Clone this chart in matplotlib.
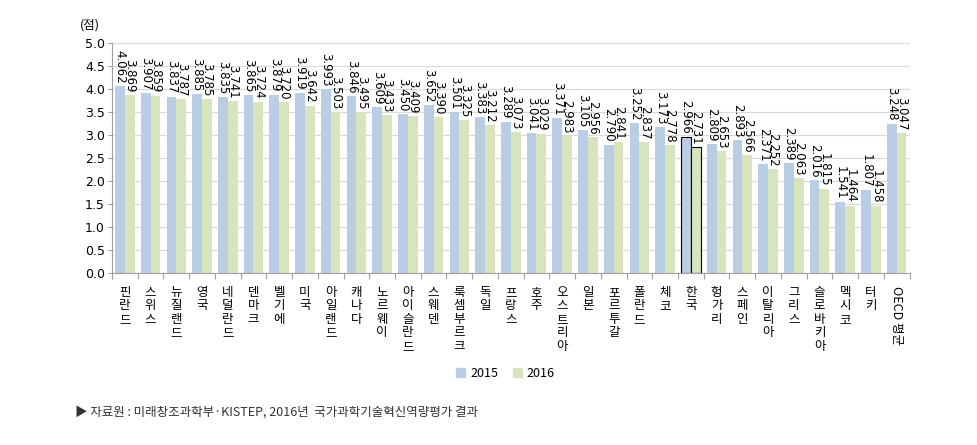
import numpy as np
import matplotlib
matplotlib.use("Agg")
import matplotlib.pyplot as plt
from matplotlib.patches import Patch

plt.rcParams['font.family'] = ['Noto Sans CJK KR', 'DejaVu Sans']

countries = ['핀란드', '스위스', '뉴질랜드', '영국', '네덜란드', '덴마크', '벨기에', '미국',
             '아일랜드', '캐나다', '노르웨이', '아이슬란드', '스웨덴', '룩셈부르크', '독일',
             '프랑스', '호주', '오스트리아', '일본', '포르투갈', '폴란드', '체코', '한국',
             '헝가리', '스페인', '이탈리아', '그리스', '슬로바키아', '멕시코', '터키', 'OECD 평균']
score_2015 = [4.062, 3.907, 3.837, 3.885, 3.835, 3.865, 3.879, 3.919, 3.993, 3.846, 3.609,
              3.450, 3.652, 3.501, 3.383, 3.289, 3.041, 3.371, 3.105, 2.790, 3.252, 3.173,
              2.966, 2.809, 2.893, 2.371, 2.389, 2.016, 1.541, 1.807, 3.248]
score_2016 = [3.869, 3.859, 3.787, 3.785, 3.741, 3.724, 3.720, 3.642, 3.503, 3.495, 3.433,
              3.409, 3.390, 3.325, 3.212, 3.073, 3.029, 2.983, 2.956, 2.841, 2.837, 2.778,
              2.731, 2.653, 2.566, 2.252, 2.063, 1.815, 1.464, 1.458, 3.047]
years = ['2015', '2016']

c15 = '#B9CDE5'
c16 = '#D7E4BD'

fig = plt.figure(figsize=(9.78, 4.45), dpi=100)
ax = fig.add_axes([0.1145, 0.387, 0.8155, 0.516])

x = np.arange(len(countries))
w = 0.38
for i, (a, b) in enumerate(zip(score_2015, score_2016)):
    edge = 'black' if countries[i] == '한국' else 'none'
    ax.bar(x[i] - w / 2, a, w, color=c15, edgecolor=edge, linewidth=0.8)
    ax.bar(x[i] + w / 2, b, w, color=c16, edgecolor=edge, linewidth=0.8)
    ax.text(x[i] - w / 2, a + 0.06, f'{a:.3f}', rotation=-90, ha='center', va='bottom',
            fontsize=8.5, family='DejaVu Sans')
    ax.text(x[i] + w / 2, b + 0.06, f'{b:.3f}', rotation=-90, ha='center', va='bottom',
            fontsize=8.5, family='DejaVu Sans')

ax.set_xlim(-0.5, len(countries) - 0.5)
ax.set_ylim(0, 5.0)
ax.set_yticks(np.arange(0, 5.01, 0.5))
ax.set_yticklabels([f'{v:.1f}' for v in np.arange(0, 5.01, 0.5)], fontsize=9,
                   family='DejaVu Sans')
ax.yaxis.grid(True, color='#D9D9D9', linewidth=0.8)
ax.set_axisbelow(True)
for s in ['top', 'right']:
    ax.spines[s].set_visible(False)
ax.spines['left'].set_color('#A0A0A0')
ax.spines['bottom'].set_color('#A0A0A0')
ax.tick_params(axis='y', length=3, color='#A0A0A0', pad=2)
ax.set_xticks(np.arange(-0.5, len(countries), 1.0))
ax.set_xticklabels([])
ax.tick_params(axis='x', length=4, color='#A0A0A0')

for i, name in enumerate(countries):
    if name == 'OECD 평균':
        ax.text(x[i], -0.28, name, rotation=-90, ha='center', va='top', fontsize=9)
    else:
        ax.text(x[i], -0.28, '\n'.join(name), ha='center', va='top', fontsize=9,
                linespacing=1.05)

fig.text(0.082, 0.935, '(점)', fontsize=9)

handles = [Patch(color=c15, label=years[0]), Patch(color=c16, label=years[1])]
fig.legend(handles=handles, loc='center', bbox_to_anchor=(0.517, 0.161), ncol=2,
           frameon=False, fontsize=9, handlelength=0.7, handleheight=0.7,
           columnspacing=1.2, handletextpad=0.4)

fig.text(0.077, 0.074, '▶ 자료원 : 미래창조과학부·KISTEP, 2016년  국가과학기술혁신역량평가 결과',
         fontsize=9, color='#333333', va='center')

fig.savefig('out.png', dpi=100)
